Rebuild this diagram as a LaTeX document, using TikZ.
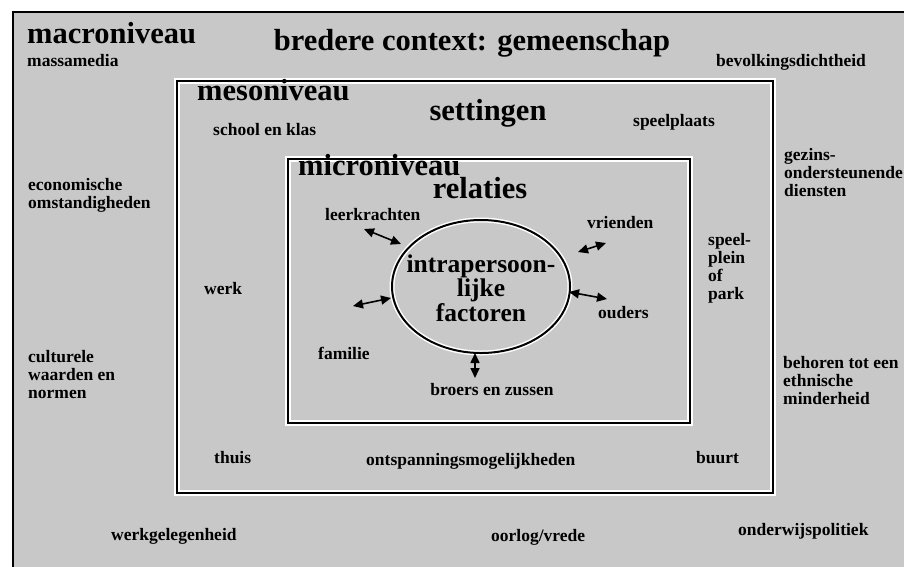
\documentclass[tikz,border=0pt]{standalone}
\usepackage{fontspec}
\setmainfont{Liberation Serif}
\usetikzlibrary{arrows.meta,shapes.geometric}
\definecolor{bg}{RGB}{200,200,200}
\newcommand\mlines[2][l]{\begin{tabular}[t]{@{}#1@{}}#2\end{tabular}}
\begin{document}
\begin{tikzpicture}[x=1pt,y=-1pt,
  small/.style={font=\bfseries\fontsize{17.5}{18}\selectfont, inner sep=0pt, anchor=base west},
  title/.style={font=\bfseries\fontsize{30.5}{32}\selectfont, inner sep=0pt, anchor=base west},
  mid/.style={font=\bfseries\fontsize{25.5}{23.5}\selectfont, inner sep=0pt, anchor=base},
  frame/.style={line width=2.5pt, draw=black},
  halo/.style={line width=6pt, draw=white},
  dbl/.style={line width=1.6pt, {Triangle[length=10pt,width=9pt]}-{Triangle[length=10pt,width=9pt]}}
]
\useasboundingbox (0,0) rectangle (904,566);
\begin{scope}
  \clip (0,0) rectangle (904,566);
  \fill[white] (0,0) rectangle (904,566);
  \filldraw[fill=bg, line width=2.5pt] (13,12) rectangle (930,590);
\end{scope}
% boxes
\draw[halo] (177,81) rectangle (773,493);
\draw[frame] (177,81) rectangle (773,493);
\draw[halo] (288,159) rectangle (690,423);
\draw[frame] (288,159) rectangle (690,423);
\node[draw=white, line width=5pt, ellipse, minimum width=178pt, minimum height=133pt, inner sep=0pt] at (481,286.5) {};
\node[draw=black, line width=2pt, ellipse, minimum width=178pt, minimum height=133pt, inner sep=0pt] (circ) at (481,286.5) {};
% macro level
\node[title] (macro) at (27,43) {macroniveau};
\node[title, anchor=base] (ctx) at (472,50) {bredere context: gemeenschap};
\node[small] (massa) at (27,66) {massamedia};
\node[small] (bevolk) at (716,66) {bevolkingsdichtheid};
\node[small] (gezins) at (784,160) {\mlines{gezins-\\ondersteunende\\diensten}};
\node[small] (econ) at (28,190) {\mlines{economische\\omstandigheden}};
\node[small] (cult) at (28,362) {\mlines{culturele\\waarden en\\normen}};
\node[small] (ethn) at (783,368) {\mlines{behoren tot een\\ethnische\\minderheid}};
\node[small] (werkg) at (111,540) {werkgelegenheid};
\node[small] (oorlog) at (491,541) {oorlog/vrede};
\node[small] (onderw) at (738,535) {onderwijspolitiek};
% meso level
\node[title] (meso) at (197,100) {mesoniveau};
\node[title, anchor=base] (sett) at (488,120) {settingen};
\node[small] (school) at (213,135) {school en klas};
\node[small] (speelpl) at (633,126) {speelplaats};
\node[small] (park) at (708,245) {\mlines{speel-\\plein\\of\\park}};
\node[small] (werk) at (204,294) {werk};
\node[small] (thuis) at (214,463) {thuis};
\node[small] (ontsp) at (366,465) {ontspanningsmogelijkheden};
\node[small] (buurt) at (696,463) {buurt};
% micro level
\node[title] (micro) at (298,175) {microniveau};
\node[title, anchor=base] (rel) at (480,198) {relaties};
\node[mid] (intra) at (481,272) {\mlines[c]{intrapersoon-\\lijke\\factoren}};
\node[small] (leer) at (325,220) {leerkrachten};
\node[small] (vriend) at (587,228) {vrienden};
\node[small] (fam) at (318,359) {familie};
\node[small] (oud) at (598,318) {ouders};
\node[small, anchor=base] (broer) at (492,395) {broers en zussen};
% arrows
\coordinate (lkA) at (364,229); \coordinate (lkB) at (401,244);
\coordinate (vrA) at (578,252); \coordinate (vrB) at (606,243);
\coordinate (faA) at (353,306); \coordinate (faB) at (391,298);
\coordinate (ouA) at (569,292); \coordinate (ouB) at (607,299);
\coordinate (brA) at (475,353); \coordinate (brB) at (475,378);
\draw[dbl] (lkA) -- (lkB);
\draw[dbl] (vrA) -- (vrB);
\draw[dbl] (faA) -- (faB);
\draw[dbl] (ouA) -- (ouB);
\draw[dbl] (brA) -- (brB);
\end{tikzpicture}
\end{document}
